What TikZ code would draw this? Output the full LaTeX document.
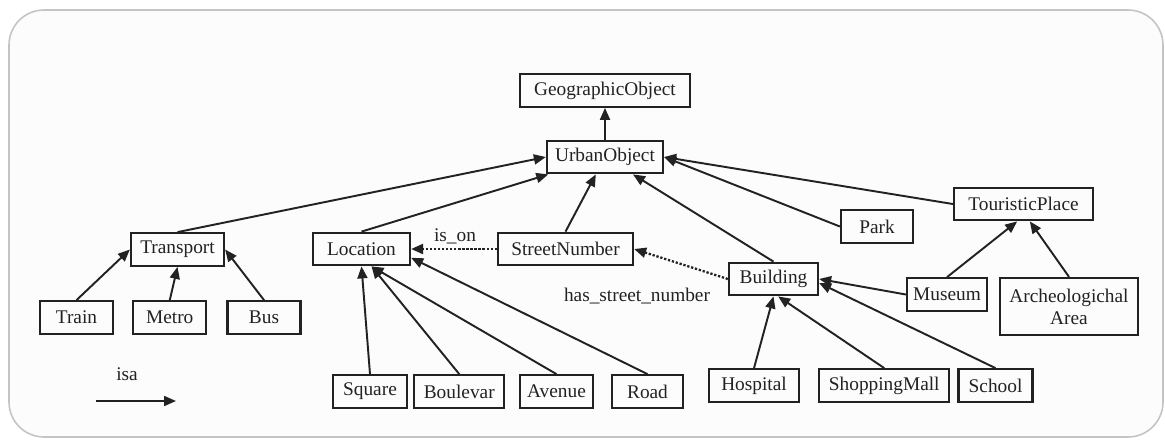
\documentclass[tikz,border=0pt]{standalone}
\usepackage{fontspec}
\setmainfont{Liberation Serif}
\usetikzlibrary{arrows.meta, positioning}
\definecolor{frameline}{HTML}{C4C4C4}
\definecolor{framefill}{HTML}{FCFCFC}
\definecolor{inkdark}{HTML}{222222}

\begin{document}
\begin{tikzpicture}[
        x=0.02cm, y=-0.02cm,
        font=\fontsize{11}{12.5}\selectfont,
        box/.style={draw=inkdark, text=inkdark, line width=1.3pt, inner sep=0pt,
                    minimum height=0.65cm, align=center},
        isa/.style={-{Triangle[length=2.4mm, width=2mm]}, inkdark, line width=1.1pt},
        rel/.style={-{Triangle[length=2.4mm, width=2mm]}, inkdark, line width=1.3pt,
                    densely dotted},
      ]
        \useasboundingbox (0,0) rectangle (1165,441);
        \draw[frameline, fill=framefill, line width=0.9pt, rounded corners=0.7cm]
            (9,10) rectangle (1163,437);

        % upper levels
        \node[box, minimum width=3.4cm] (geo) at (605,90.5) {GeographicObject};
        \node[box, minimum width=2.32cm] (urban) at (605,157) {UrbanObject};
        \node[box, minimum width=1.86cm] (trans) at (177.5,249.5) {Transport};
        \node[box, minimum width=1.94cm] (loc) at (361.5,249) {Location};
        \node[box, minimum width=2.7cm] (sn) at (565.5,249) {StreetNumber};
        \node[box, minimum width=1.44cm] (park) at (877,226.5) {Park};
        \node[box, minimum width=2.78cm] (tp) at (1023.5,204) {TouristicPlace};
        \node[box, minimum width=1.78cm] (bld) at (773.5,279) {Building};
        \node[box, minimum width=1.6cm] (mus) at (947,294.5) {Museum};
        \node[box, minimum width=2.76cm, minimum height=1.14cm] (arch) at (1069,306.5)
            {Archeologichal\\Area};

        % leaves
        \node[box, minimum width=1.46cm] (train) at (76.5,317.5) {Train};
        \node[box, minimum width=1.46cm, right=0.36cm of train] (metro) {Metro};
        \node[box, minimum width=1.46cm, right=0.38cm of metro] (bus) {Bus};
        \node[box, minimum width=1.48cm] (sq) at (370,391.5) {Square};
        \node[box, minimum width=1.8cm, right=0.1cm of sq] (bou) {Boulevar};
        \node[box, minimum width=1.46cm] (ave) at (556.5,391.5) {Avenue};
        \node[box, minimum width=1.42cm] (road) at (647.5,391.5) {Road};
        \node[box, minimum width=1.8cm] (hosp) at (754,385.5) {Hospital};
        \node[box, minimum width=2.6cm, right=0.36cm of hosp] (sm) {ShoppingMall};
        \node[box, minimum width=1.48cm, right=0.14cm of sm] (school) {School};

        % isa links
        \draw[isa] (urban) -- (geo);
        \draw[isa] (trans.north) -- (urban.west);
        \draw[isa] (loc.north) -- (urban);
        \draw[isa] (sn.north) -- (urban);
        \draw[isa] (bld.north) -- (urban);
        \draw[isa] (park.west) -- (urban.east);
        \draw[isa] (tp.west) -- (urban.east);
        \draw[isa] (train.north) -- (trans.west);
        \draw[isa] (metro.north) -- (trans.south);
        \draw[isa] (bus.north) -- (trans.east);
        \draw[isa] (sq.north) -- (loc.south);
        \draw[isa] (bou.north) -- (loc.-60);
        \draw[isa] (ave.north) -- (loc.-60);
        \draw[isa] (road.north) -- (loc.-10);
        \draw[isa] (hosp.north) -- (bld.south);
        \draw[isa] (sm.north) -- (bld.-75);
        \draw[isa] (school.north) -- (bld.-5);
        \draw[isa] (mus.west) -- (bld.east);
        \draw[isa] (mus.north) -- (tp.250);
        \draw[isa] (arch.north) -- (tp.-70);

        % other relations
        \draw[rel] (sn.west) -- (loc.east);
        \node[text=inkdark] (ison) at (455,236) {is\_on};
        \draw[rel] (bld.west) -- (sn.east);
        \node[text=inkdark] (hasnum) at (637,296) {has\_street\_number};

        % legend
        \node[text=inkdark] (isalab) at (127,374) {isa};
        \coordinate (isaL) at (96,401);
        \coordinate (isaR) at (176,401);
        \draw[isa] (isaL) -- (isaR);
      \end{tikzpicture}
\end{document}
